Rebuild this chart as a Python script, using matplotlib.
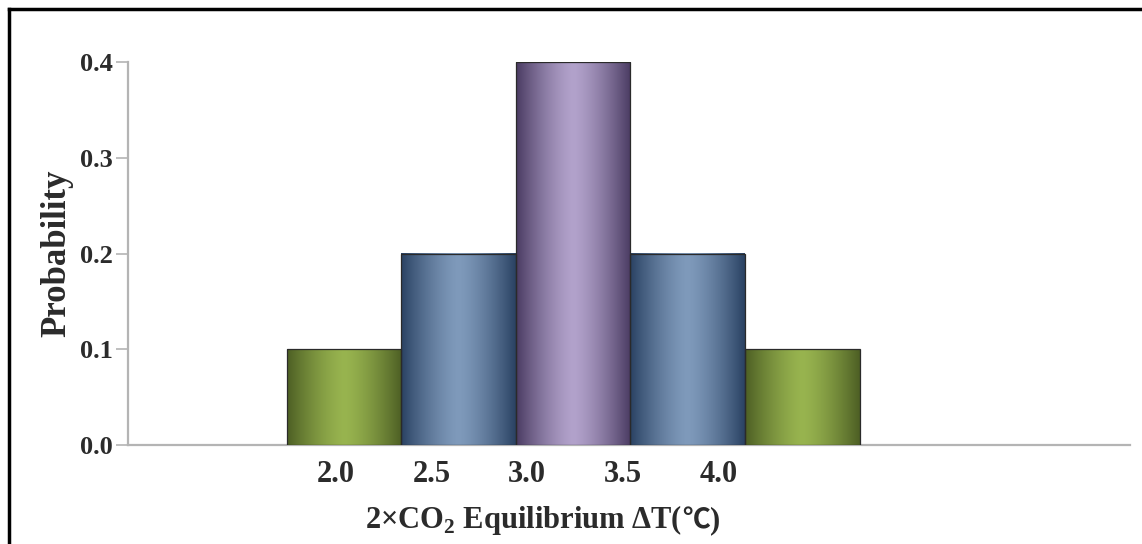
import matplotlib
matplotlib.use("Agg")
import matplotlib.pyplot as plt
import matplotlib.colors as mcolors
from matplotlib.lines import Line2D
from matplotlib.offsetbox import TextArea, HPacker, AnnotationBbox
import numpy as np

plt.rcParams['font.family'] = ['Liberation Serif', 'Noto Sans CJK SC']
plt.rcParams['font.weight'] = 'bold'
plt.rcParams['axes.labelweight'] = 'bold'
plt.rcParams['mathtext.fontset'] = 'custom'
plt.rcParams['mathtext.rm'] = 'Liberation Serif:bold'
plt.rcParams['mathtext.bf'] = 'Liberation Serif:bold'

# data
temps = [2.0, 2.5, 3.0, 3.5, 4.0]
probs = [0.1, 0.2, 0.4, 0.2, 0.1]
tick_labels = ['2.0', '2.5', '3.0', '3.5', '4.0']
y_ticks = [0.0, 0.1, 0.2, 0.3, 0.4]

# (edge colour, centre colour) for the shaded bars
green = ('#4d5f24', '#98b44f')
blue = ('#2a4263', '#7f9abb')
purple = ('#4a3b62', '#b2a2cb')
bar_styles = [green, blue, purple, blue, green]

text_col = '#2b2b2b'

fig = plt.figure(figsize=(11.42, 5.44), dpi=100)
ax = fig.add_axes([128 / 1142, 0.182, 1002 / 1142, 0.704])

width = 0.5
u = np.linspace(0, 1, 200)
t = np.abs(2 * u - 1) ** 1.4
for x, p, (edge, mid) in zip(temps, probs, bar_styles):
    e = np.array(mcolors.to_rgb(edge))
    m = np.array(mcolors.to_rgb(mid))
    row = m + (e - m) * t[:, None]
    img = np.repeat(row[None, :, :], 2, axis=0)
    ax.imshow(img, extent=(x - width / 2, x + width / 2, 0, p),
              aspect='auto', origin='lower', zorder=2, interpolation='bilinear')
    ax.bar(x, p, width=width, facecolor='none', edgecolor='#2a2a2a',
           linewidth=0.9, zorder=3)

ax.set_xlim(1.056, 5.431)
ax.set_ylim(0, 0.4)

for s in ['top', 'right']:
    ax.spines[s].set_visible(False)
for s in ['left', 'bottom']:
    ax.spines[s].set_color('#b4b4b4')
    ax.spines[s].set_linewidth(1.6)
    ax.spines[s].set_zorder(1)

ax.set_yticks(y_ticks)
ax.set_yticklabels([f'{v:.1f}' for v in y_ticks])
ax.tick_params(axis='y', length=9, width=1.2, color='#b4b4b4', pad=2,
               labelsize=19, labelcolor=text_col)

# category labels sit on their own even spacing under the bars
label_x = np.linspace(1.964, 3.633, len(tick_labels))
ax.set_xticks(label_x)
ax.set_xticklabels(tick_labels)
ax.tick_params(axis='x', length=0, pad=11, labelsize=22, labelcolor=text_col)

ax.set_ylabel('Probability', fontsize=25, color=text_col, labelpad=5)

# x title: the Celsius sign comes from the CJK font
serif = dict(fontsize=22, color=text_col, fontweight='bold',
             family='Liberation Serif')
cjk = dict(fontsize=20, color=text_col, fontweight='bold',
           family='Noto Sans CJK SC')
parts = [TextArea(r'2×CO$_2$ Equilibrium ΔT(', textprops=serif),
         TextArea('℃', textprops=cjk),
         TextArea(')', textprops=serif)]
title = HPacker(children=parts, align='baseline', pad=0, sep=0)
fig.add_artist(AnnotationBbox(title, (543 / 1142, 24 / 544),
                              xycoords='figure fraction',
                              box_alignment=(0.5, 0.5), frameon=False))

# black frame along the top and left edges
fig.add_artist(Line2D([9 / 1142, 1], [1 - 9 / 544, 1 - 9 / 544],
                      transform=fig.transFigure, color='black', lw=2.5))
fig.add_artist(Line2D([9 / 1142, 9 / 1142], [0, 1 - 9 / 544],
                      transform=fig.transFigure, color='black', lw=2.5))

fig.savefig('out.png', dpi=100)
